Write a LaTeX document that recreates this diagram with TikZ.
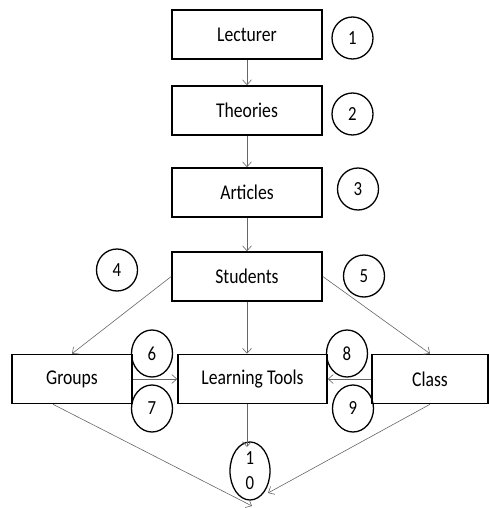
\documentclass[tikz,border=0pt]{standalone}
\usepackage{fontspec}
\setmainfont{Carlito}[FakeStretch=0.84]
\usetikzlibrary{arrows.meta,shapes.geometric}
\begin{document}
\begin{tikzpicture}[x=1pt,y=-1pt,>={Straight Barb[length=5pt,width=9pt]},
              box/.style={rectangle,draw,line width=1.6pt,minimum width=150pt,minimum height=49pt,
                font=\fontsize{21}{22}\selectfont},
              num/.style={ellipse,draw,line width=1.3pt,inner sep=0pt,minimum width=41pt,minimum height=42pt,
                font=\fontsize{20}{21}\selectfont},
              link/.style={->,draw=black!60,line width=0.6pt}]
            \useasboundingbox (0,0) rectangle (489,508);

            \node[box] (lecturer) at (247,34.5) {Lecturer};
            \node[box] (theories) at (247,110.5) {Theories};
            \node[box] (articles) at (247,192.5) {Articles};
            \node[box] (students) at (247,276.5) {Students};
            \node[box,minimum width=120pt] (groups) at (72,379) {Groups};
            \node[box,minimum width=149pt] (tools) at (252.5,379) {Learning Tools};
            \node[box,minimum width=116pt] (class) at (430,379) {Class};

            \node[num] (n1) at (352.5,38) {1};
            \node[num] (n2) at (352.5,114) {2};
            \node[num] (n3) at (358,189) {3};
            \node[num] (n4) at (117,270) {4};
            \node[num] (n5) at (364,276) {5};
            \node[num,minimum height=47pt] (n6) at (152,353.5) {6};
            \node[num,minimum height=47pt] (n7) at (152,408.5) {7};
            \node[num,minimum height=47pt] (n8) at (347,353.5) {8};
            \node[num,minimum height=47pt] (n9) at (353,408.5) {9};
            \node[num,minimum width=40pt,minimum height=58pt,align=center,
              font=\fontsize{20}{25}\selectfont] (n10) at (250,471) {1\\0};

            \coordinate (endG) at (252,506);
            \coordinate (endC) at (268,493);
            \coordinate (endT) at (247,447);

            \path[every edge/.append style={link}]
            (lecturer) edge (theories)
            (theories) edge (articles)
            (articles) edge (students)
            (students.west) edge (groups.north)
            (students.east) edge (class.north)
            (students.south) edge (students.south |- tools.north)
            (groups.east) edge (tools.west)
            (class.west) edge (tools.east)
            (tools.south -| endT) edge (endT)
            ([xshift=-19pt]groups.south) edge (endG)
            (class.south) edge (endC);
          \end{tikzpicture}
\end{document}
